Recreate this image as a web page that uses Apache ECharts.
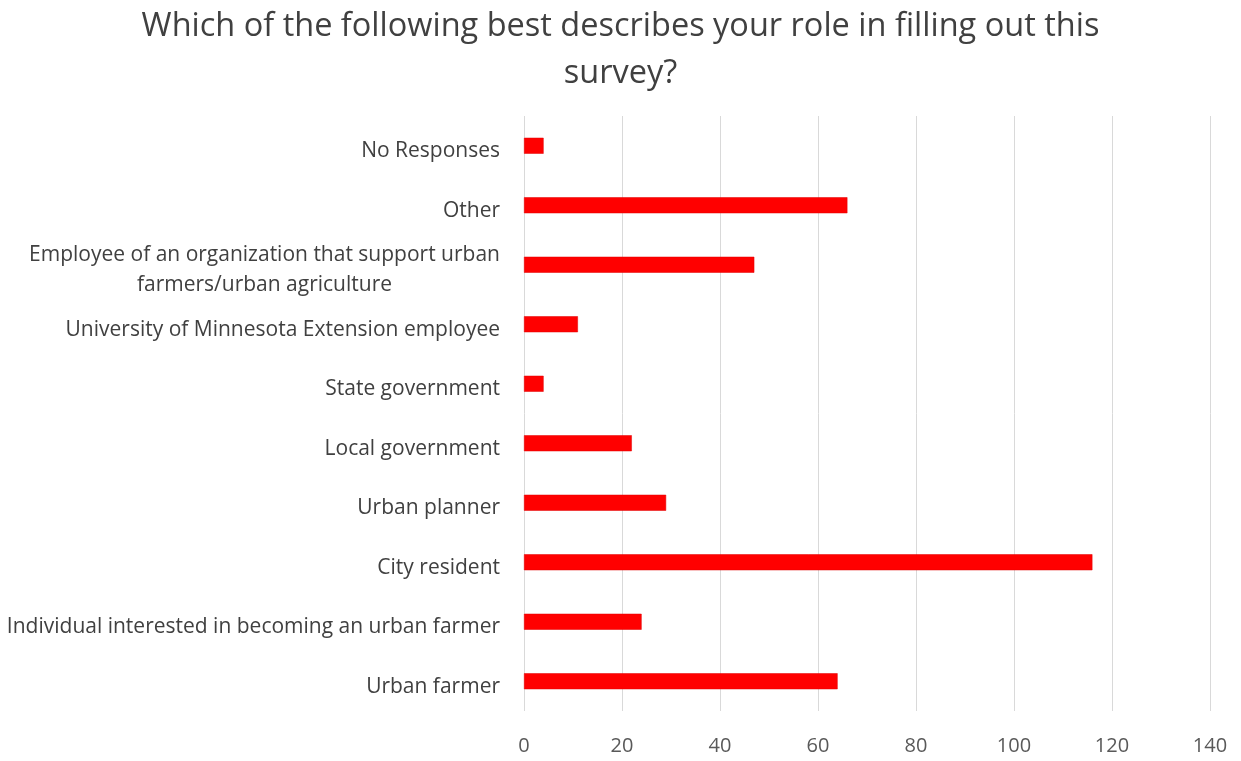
<!DOCTYPE html>
<html>
<head>
<meta charset="utf-8">
<script src="https://cdn.jsdelivr.net/npm/echarts@6/dist/echarts.min.js"></script>
<style>
html,body{margin:0;padding:0;background:#fff;}
#chart{width:1241px;height:761px;}
</style>
</head>
<body>
<div id="chart"></div>
<script>
const titleText = "Which of the following best describes your role in filling out this\nsurvey?";
const categories = [
  "Urban farmer",
  "Individual interested in becoming an urban farmer",
  "City resident",
  "Urban planner",
  "Local government",
  "State government",
  "University of Minnesota Extension employee",
  "Employee of an organization that support urban\nfarmers/urban agriculture",
  "Other",
  "No Responses"
];
const values = [64, 24, 116, 29, 22, 4, 11, 47, 66, 4];
const xTicks = [0, 20, 40, 60, 80, 100, 120, 140];

const fontFam = '"Open Sans", "Liberation Sans", sans-serif';
const labelSize = 21;
const mctx = document.createElement('canvas').getContext('2d');
mctx.font = labelSize + 'px "Open Sans"';
function labelFormatter(v) {
  if (v.indexOf('\n') < 0) return v;
  return v.split('\n').map(l => '{c|' + l + '}').join('\n');
}
const longest = Math.max(...categories.map(c => c.indexOf('\n') >= 0 ? mctx.measureText(c.split('\n')[0]).width : 0));

const chart = echarts.init(document.getElementById('chart'));
chart.setOption({
  backgroundColor: '#ffffff',
  animation: false,
  title: {
    text: titleText,
    left: 'center',
    top: -2,
    textStyle: {
      fontFamily: fontFam,
      fontSize: 32.5,
      fontWeight: 'normal',
      color: '#404040',
      lineHeight: 47
    }
  },
  grid: {
    left: 524,
    right: 31,
    top: 116,
    bottom: 50,
    containLabel: false
  },
  xAxis: {
    type: 'value',
    min: xTicks[0],
    max: xTicks[xTicks.length - 1],
    interval: 20,
    axisLine: { show: false },
    axisTick: { show: false },
    splitLine: { show: true, lineStyle: { color: '#d9d9d9', width: 1 } },
    axisLabel: {
      fontFamily: fontFam,
      fontSize: 20,
      color: '#595959',
      margin: 25
    }
  },
  yAxis: {
    type: 'category',
    data: categories,
    axisLine: { show: false },
    axisTick: { show: false },
    axisLabel: {
      fontFamily: fontFam,
      fontSize: labelSize,
      color: '#404040',
      margin: 24,
      lineHeight: 30,
      align: 'right',
      padding: [11, 0, 0, 0],
      formatter: labelFormatter,
      rich: {
        c: {
          fontFamily: fontFam,
          fontSize: labelSize,
          color: '#404040',
          lineHeight: 30,
          width: Math.ceil(longest),
          align: 'center'
        }
      }
    }
  },
  series: [{
    type: 'bar',
    data: values,
    barWidth: 16,
    itemStyle: { color: '#ff0000', borderColor: '#e00000', borderWidth: 0.5 }
  }]
});
</script>
</body>
</html>
